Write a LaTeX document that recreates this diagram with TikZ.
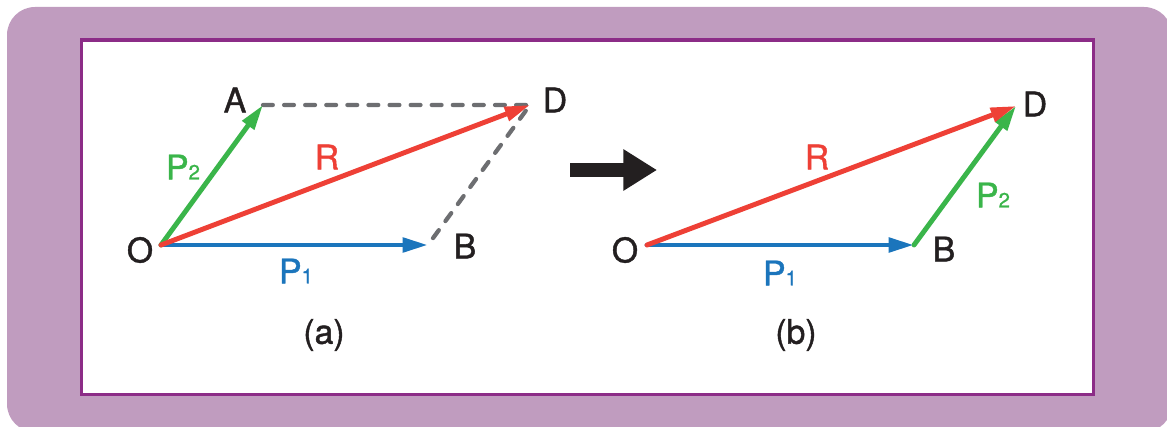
\documentclass[tikz,border=0pt]{standalone}
\usepackage{fontspec}
\setmainfont{TeX Gyre Heros}
\newfontfamily\labelfont[FakeBold=1.2]{TeX Gyre Heros}
\usetikzlibrary{arrows.meta}
\usepackage{xcolor}
\definecolor{outerpurple}{HTML}{C09CBF}
\definecolor{framepurple}{HTML}{8C2C87}
\definecolor{vecgreen}{HTML}{3AB54A}
\definecolor{vecred}{HTML}{EE4036}
\definecolor{vecblue}{HTML}{1B75BC}
\definecolor{guidegray}{HTML}{6D6E71}
\definecolor{inkblack}{HTML}{231F20}
\newcommand{\vecname}[2]{#1{\fontsize{14.5}{15}\selectfont #2}}

\begin{document}
\begin{tikzpicture}[x=0.025cm, y=-0.025cm,
    vec/.style={line width=3.5pt, line cap=round, -{Triangle[length=18pt, width=10pt]}},
    guide/.style={draw=guidegray, line width=3pt, line cap=round, dash pattern=on 7pt off 8pt},
    lbl/.style={font=\labelfont\fontsize{24}{24}\selectfont, text=inkblack, inner sep=0pt}]
    \useasboundingbox (0,0) rectangle (1167,427);

    % Draw the background and the frame
    \fill[outerpurple, rounded corners=0.7cm] (7,7) rectangle (1172,432);
    \draw[framepurple, fill=white, line width=2.3pt] (81.5,40) rectangle (1093.5,394.5);

    % Define coordinates for the points
    \coordinate (O1) at (161,245);
    \coordinate (B1) at (428,245);
    \coordinate (A1) at (263,105);
    \coordinate (D1) at (530,105);
    \coordinate (O2) at (647,245);
    \coordinate (B2) at (914,245);
    \coordinate (D2) at (1016,106);
    \coordinate (S1) at (570,170);
    \coordinate (S2) at (657,170);

    % (a): the parallelogram
    \draw[guide] (A1) -- (D1) -- (B1);
    \draw[vec, vecblue] (O1) -- (B1);
    \draw[vec, vecgreen] (O1) -- (A1);
    \draw[vec, vecred] (O1) -- (D1);

    % big arrow between the two
    \draw[inkblack, line width=9.9pt, -{Triangle[length=24pt, width=28pt]}] (S1) -- (S2);

    % (b): the triangle
    \draw[vec, vecblue] (O2) -- (B2);
    \draw[vec, vecgreen] (B2) -- (D2);
    \draw[vec, vecred] (O2) -- (D2);

    % Label the points
    \foreach \n/\t/\x/\y in {lO1/O/140/250, lA1/A/235/100, lD1/D/555/100, lB1/B/465/246,
                             lO2/O/625/250, lB2/B/944/249, lD2/D/1035/104}
        \node[lbl] (\n) at (\x,\y) {\t};

    % Label the vectors
    \node[lbl, text=vecgreen] (P2a) at (183,167) {\vecname{P}{2}};
    \node[lbl, text=vecred] (Ra) at (327,157) {R};
    \node[lbl, text=vecblue] (P1a) at (296,271) {\vecname{P}{1}};
    \node[lbl, text=vecred] (Rb) at (817,157) {R};
    \node[lbl, text=vecgreen] (P2b) at (993,195) {\vecname{P}{2}};
    \node[lbl, text=vecblue] (P1b) at (780,273) {\vecname{P}{1}};

    % Captions
    \node[lbl] (capa) at (324,335) {(a)};
    \node[lbl] (capb) at (796,335) {(b)};
\end{tikzpicture}
\end{document}
